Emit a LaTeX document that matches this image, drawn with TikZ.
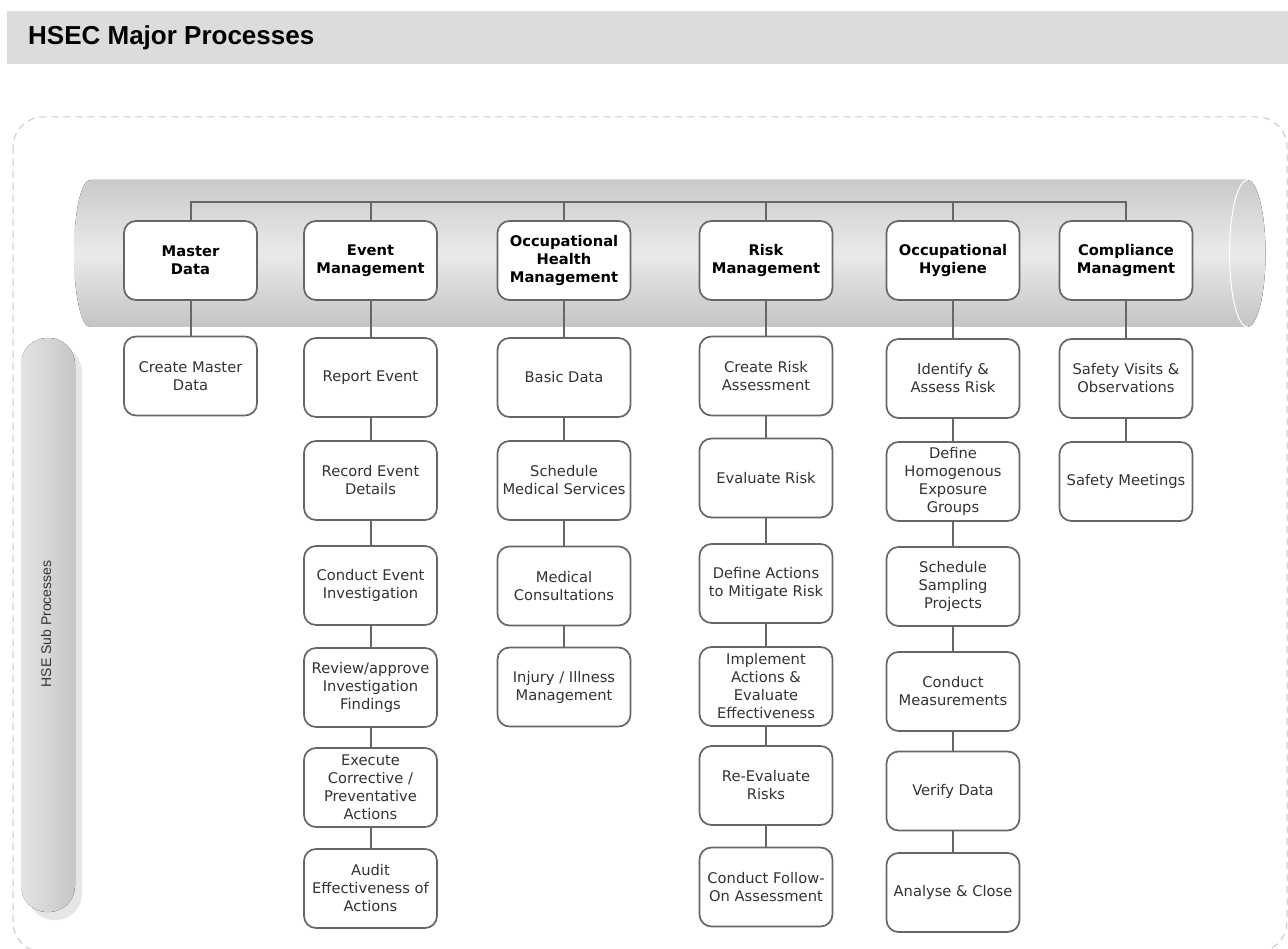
\documentclass[tikz,border=0pt]{standalone}
\usepackage{fontspec}
\setmainfont{DejaVu Sans}
\newfontfamily\arialfont{Liberation Sans}
\definecolor{titlegray}{HTML}{DCDCDC}
\definecolor{dashgray}{HTML}{C8C8C8}
\definecolor{cyltop}{HTML}{CACACA}
\definecolor{cylmid}{HTML}{EAEAEA}
\definecolor{cylbot}{HTML}{C4C4C4}
\definecolor{vcylleft}{HTML}{E4E4E4}
\definecolor{vcylright}{HTML}{C6C6C6}
\definecolor{vcylrim}{HTML}{E6E6E6}
\definecolor{boxborder}{HTML}{666666}
\definecolor{linkgray}{HTML}{666666}
\definecolor{subtext}{HTML}{333333}
\begin{document}
\begin{tikzpicture}[x=1pt,y=-1pt,
  box/.style={draw=boxborder, line width=1.7pt, fill=white, rounded corners=12pt,
    minimum width=133pt, minimum height=79pt, align=center, inner sep=2pt,
    font=\fontsize{14.7}{18}\selectfont, text=subtext},
  headbox/.style={box, font=\fontsize{14.7}{18}\selectfont\bfseries, text=black},
  link/.style={draw=linkgray, line width=2pt}
]
\useasboundingbox (0,0) rectangle (1288,949);
\fill[white] (0,0) rectangle (1288,949);

% title bar
\fill[titlegray] (7,11) rectangle (1288,64);
\node[anchor=west, inner sep=0pt, font=\arialfont\fontsize{26}{30}\selectfont\bfseries] (title) at (28,37.5) {HSEC Major Processes};

% dashed frame
\draw[dashgray, line width=1pt, dash pattern=on 7pt off 5pt, rounded corners=30pt] (13,117) rectangle (1287,952);

% horizontal cylinder
\fill[top color=cyltop, bottom color=cylbot, middle color=cylmid]
  (90,180) -- (1247.5,180) arc[start angle=-90, end angle=90, x radius=18, y radius=73.5]
  -- (90,327) arc[start angle=90, end angle=270, x radius=16, y radius=73.5] -- cycle;
\draw[white, line width=1pt]
  (1247.5,180) arc[start angle=-90, end angle=-270, x radius=18, y radius=73.5];

% vertical cylinder
\fill[vcylrim, rounded corners=26pt] (28,346) rectangle (82,920);
\fill[left color=vcylleft, right color=vcylright, rounded corners=26pt] (21,338) rectangle (75,912);
\node[rotate=90, inner sep=0pt, text=subtext, font=\arialfont\fontsize{14}{16}\selectfont] (hsesub) at (46,624) {HSE Sub Processes};

% main process nodes
\node[headbox] (md) at (190.5,260.5) {Master\\Data};
\node[headbox] (em) at (370.5,260.5) {Event\\Management};
\node[headbox] (oh) at (564,260.5) {Occupational\\Health\\Management};
\node[headbox] (rm) at (766,260.5) {Risk\\Management};
\node[headbox] (hy) at (953,260.5) {Occupational\\Hygiene};
\node[headbox] (cm) at (1126,260.5) {Compliance\\Managment};

% sub processes
\node[box] (md1) at (190.5,376) {Create Master\\Data};

\node[box] (em1) at (370.5,377.5) {Report Event};
\node[box] (em2) at (370.5,480.5) {Record Event\\Details};
\node[box] (em3) at (370.5,585.5) {Conduct Event\\Investigation};
\node[box] (em4) at (370.5,687.5) {Review/approve\\Investigation\\Findings};
\node[box] (em5) at (370.5,787.5) {Execute\\Corrective /\\Preventative\\Actions};
\node[box] (em6) at (370.5,888.5) {Audit\\Effectiveness of\\Actions};

\node[box] (oh1) at (564,377.5) {Basic Data};
\node[box] (oh2) at (564,480.5) {Schedule\\Medical Services};
\node[box] (oh3) at (564,586) {Medical\\Consultations};
\node[box] (oh4) at (564,687) {Injury / Illness\\Management};

\node[box] (rm1) at (766,376) {Create Risk\\Assessment};
\node[box] (rm2) at (766,478) {Evaluate Risk};
\node[box] (rm3) at (766,583.5) {Define Actions\\to Mitigate Risk};
\node[box] (rm4) at (766,686.5) {Implement\\Actions \&\\Evaluate\\Effectiveness};
\node[box] (rm5) at (766,785.5) {Re-Evaluate\\Risks};
\node[box] (rm6) at (766,887) {Conduct Follow-\\On Assessment};

\node[box] (hy1) at (953,378.5) {Identify \&\\Assess Risk};
\node[box] (hy2) at (953,481.5) {Define\\Homogenous\\Exposure\\Groups};
\node[box] (hy3) at (953,586.5) {Schedule\\Sampling\\Projects};
\node[box] (hy4) at (953,691.5) {Conduct\\Measurements};
\node[box] (hy5) at (953,791) {Verify Data};
\node[box] (hy6) at (953,892.5) {Analyse \& Close};

\node[box] (cm1) at (1126,378.5) {Safety Visits \&\\Observations};
\node[box] (cm2) at (1126,481.5) {Safety Meetings};

% bus connector
\coordinate (bus) at (0,202);
\draw[link] (md.north) -- (md.north |- bus) -- (cm.north |- bus) -- (cm.north);
\foreach \n in {em,oh,rm,hy}
  \draw[link] (\n.north) -- (\n.north |- bus);

% vertical chains
\foreach \a/\b in {md/md1,
  em/em1,em1/em2,em2/em3,em3/em4,em4/em5,em5/em6,
  oh/oh1,oh1/oh2,oh2/oh3,oh3/oh4,
  rm/rm1,rm1/rm2,rm2/rm3,rm3/rm4,rm4/rm5,rm5/rm6,
  hy/hy1,hy1/hy2,hy2/hy3,hy3/hy4,hy4/hy5,hy5/hy6,
  cm/cm1,cm1/cm2}
  \draw[link] (\a.south) -- (\b.north);
\end{tikzpicture}
\end{document}
